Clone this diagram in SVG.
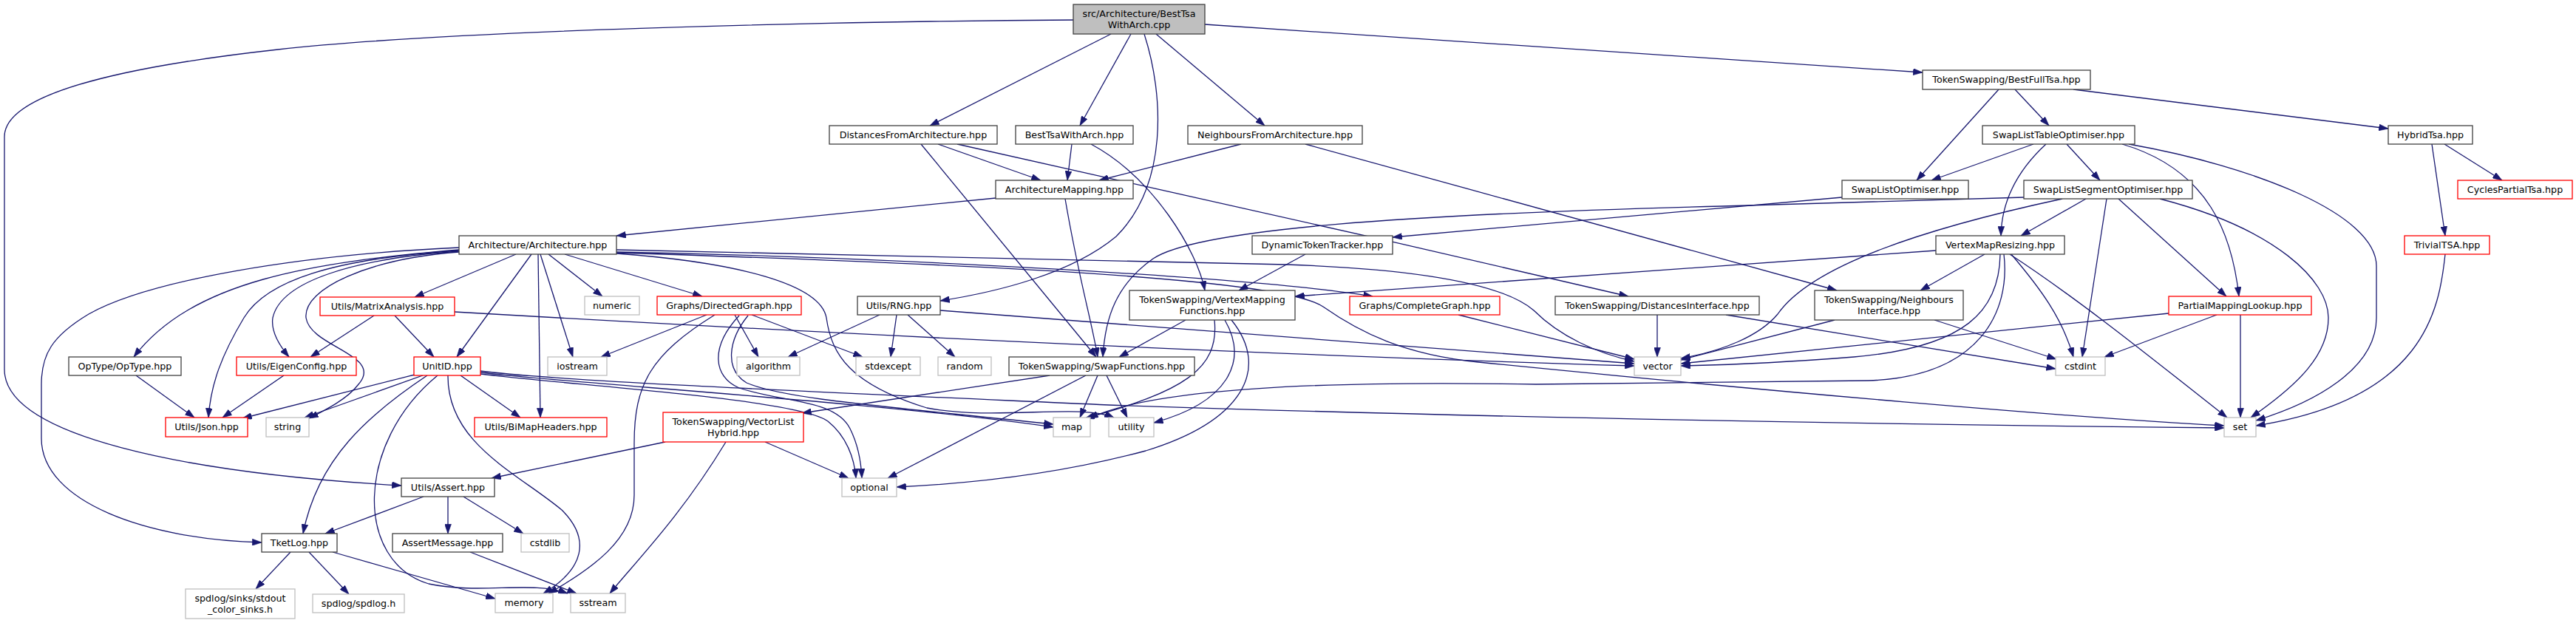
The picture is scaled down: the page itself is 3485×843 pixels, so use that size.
<svg xmlns="http://www.w3.org/2000/svg" width="3485" height="843" viewBox="0 0 3485 843">
<defs>
<marker id="a" viewBox="0 0 10 7" refX="10" refY="3.5" markerWidth="12.7" markerHeight="9" markerUnits="userSpaceOnUse" orient="auto">
<path d="M0,0 L10,3.5 L0,7 z" fill="#191970" stroke="#191970" stroke-width="0.5"/>
</marker>
<style>
.e path{fill:none;stroke:#191970;stroke-width:1.3;marker-end:url(#a)}
.n rect{fill:#fff;stroke-width:1.3}
.k rect{stroke:#404040}
.r rect{stroke:#ff0000}
.g rect{stroke:#bfbfbf}
#root rect{fill:#bfbfbf;stroke:#404040}
.n text{font-family:"DejaVu Sans","Liberation Sans",sans-serif;font-size:12.7px;text-anchor:middle;fill:#000}
</style>
</defs>
<rect width="3485" height="843" fill="#fff"/>
<g id="edges" class="e">
<path d="M1452,27 C1100,29 600,42 376,67 C150,92 6,130 6,185 L6,500 C6,590 250,640 543,657"/>
<path d="M1503,46 L1258,170"/>
<path d="M1530,46 L1461,170"/>
<path d="M1548,46 C1575,130 1580,250 1510,320 C1450,370 1350,395 1272,407"/>
<path d="M1564,46 L1711,170"/>
<path d="M1630,33 L2601,98"/>
<path d="M1269,195 L1408,244"/>
<path d="M1246,195 L1483,483"/>
<path d="M1295,195 C1500,240 1900,330 2203,401"/>
<path d="M1450,195 L1444,244"/>
<path d="M1476,195 C1560,240 1620,340 1630,393"/>
<path d="M1679,195 L1487,244"/>
<path d="M1766,195 L2485,393"/>
<path d="M2704,121 L2593,244"/>
<path d="M2726,121 L2772,170"/>
<path d="M2805,121 L3231,174"/>
<path d="M2751,195 L2613,244"/>
<path d="M2768,195 C2730,230 2708,270 2707,319"/>
<path d="M2796,195 L2841,244"/>
<path d="M2871,195 C2990,230 3020,320 3029,401"/>
<path d="M2880,195 C3050,225 3215,290 3215,360 L3215,430 C3215,500 3130,545 3052,569"/>
<path d="M3307,195 L3385,244"/>
<path d="M3290,195 L3308,319"/>
<path d="M1347,268 L834,319"/>
<path d="M1441,269 C1460,380 1476,430 1485,483"/>
<path d="M2492,267 L1884,321"/>
<path d="M2738,267 L2330,279 C1900,290 1620,310 1560,350 C1510,385 1495,430 1492,483"/>
<path d="M2822,269 L2734,319"/>
<path d="M2866,269 L3012,401"/>
<path d="M2850,269 L2817,483"/>
<path d="M2922,269 C3080,310 3150,380 3150,430 C3150,480 3110,520 3045,565"/>
<path d="M2790,269 C2600,310 2450,360 2405,425 C2380,455 2330,475 2274,485"/>
<path d="M3308,344 C3300,420 3280,540 3052,576"/>
<path d="M698,344 L561,402"/>
<path d="M719,344 L618,483"/>
<path d="M728,344 L731,565"/>
<path d="M731,344 L775,483"/>
<path d="M742,344 L815,401"/>
<path d="M764,344 L950,401"/>
<path d="M621,338 C420,355 260,380 181,483"/>
<path d="M621,339 C450,350 360,380 330,430 C300,480 285,520 282,565"/>
<path d="M621,340 C480,350 380,380 369,430 C366,450 380,470 391,483"/>
<path d="M621,341 C500,350 410,390 414,430 C420,470 520,480 485,520 C470,540 440,555 418,566"/>
<path d="M621,335 C400,345 200,380 120,425 C70,455 56,480 56,520 L56,593 C56,680 200,730 354,734"/>
<path d="M834,338 L1740,358 C1950,365 2040,390 2075,420 C2110,455 2160,478 2211,489"/>
<path d="M834,341 C1200,348 1700,375 1857,401"/>
<path d="M834,342 C1400,360 1740,380 1790,415 C1840,450 1900,480 2000,490 C2400,530 2800,565 3009,576"/>
<path d="M834,343 C1000,355 1110,385 1118,430 C1125,480 1150,520 1254,552 C1350,570 1460,545 1507,565"/>
<path d="M1766,344 L1676,393"/>
<path d="M2619,339 L1752,401"/>
<path d="M2685,344 L2598,393"/>
<path d="M2706,344 C2705,420 2660,470 2508,483 C2420,490 2330,494 2274,495"/>
<path d="M2711,344 C2720,420 2680,510 2527,515 C2400,515 2200,520 2078,520 C1800,515 1560,525 1473,566"/>
<path d="M2721,344 C2760,390 2790,430 2805,483"/>
<path d="M2719,344 C2820,410 2930,500 3013,565"/>
<path d="M506,427 L420,483"/>
<path d="M534,427 L587,483"/>
<path d="M615,422 C1100,450 1700,480 2211,495"/>
<path d="M956,426 L813,483"/>
<path d="M967,426 C880,480 858,520 858,600 L858,670 C858,730 800,770 742,803"/>
<path d="M994,426 L1026,483"/>
<path d="M1017,426 L1167,483"/>
<path d="M1000,427 C960,470 965,510 1000,525 C1060,545 1130,540 1150,580 C1160,600 1165,625 1166,647"/>
<path d="M1012,427 C985,460 980,500 1010,518 C1060,540 1200,550 1425,574"/>
<path d="M1190,426 L1066,483"/>
<path d="M1213,426 L1205,483"/>
<path d="M1228,426 L1292,483"/>
<path d="M1272,420 L2211,492"/>
<path d="M1604,433 L1514,483"/>
<path d="M1643,433 C1650,500 1600,530 1468,566"/>
<path d="M1657,433 C1690,490 1660,545 1561,572"/>
<path d="M1666,433 C1720,500 1680,570 1550,610 C1420,645 1300,655 1213,659"/>
<path d="M1973,426 L2211,486"/>
<path d="M2242,426 L2242,483"/>
<path d="M2335,426 L2781,499"/>
<path d="M2482,433 L2274,487"/>
<path d="M2617,433 L2782,486"/>
<path d="M2934,424 L2274,492"/>
<path d="M2999,426 L2847,483"/>
<path d="M3031,426 L3031,565"/>
<path d="M184,508 L263,565"/>
<path d="M384,508 L301,565"/>
<path d="M561,507 L328,566"/>
<path d="M572,508 L412,565"/>
<path d="M578,508 C500,560 430,620 410,722"/>
<path d="M606,508 C605,600 700,640 760,690 C800,730 790,770 735,803"/>
<path d="M592,508 C480,600 480,760 580,790 C650,805 720,785 768,803"/>
<path d="M623,508 L704,565"/>
<path d="M650,502 C760,516 1100,530 1500,548 C2000,565 2600,575 3009,579"/>
<path d="M650,504 C760,518 1200,545 1425,578"/>
<path d="M650,506 C780,522 1080,540 1120,570 C1145,590 1156,620 1158,647"/>
<path d="M1420,508 L1085,559"/>
<path d="M1469,508 L1201,647"/>
<path d="M1485,508 L1461,565"/>
<path d="M1497,508 L1525,565"/>
<path d="M900,598 L665,647"/>
<path d="M1035,598 L1148,647"/>
<path d="M982,598 C920,700 860,760 825,803"/>
<path d="M573,672 L440,722"/>
<path d="M606,672 L606,722"/>
<path d="M627,672 L708,722"/>
<path d="M393,747 L346,797"/>
<path d="M418,747 L472,804"/>
<path d="M450,747 L670,810"/>
<path d="M636,747 L780,803"/>
</g>
<g id="root" class="n"><rect x="1452" y="6" width="178" height="40"/><text x="1541" y="22.5">src/Architecture/BestTsa</text><text x="1541" y="37.5">WithArch.cpp</text></g>
<g id="n_dfa" class="n k"><rect x="1122" y="170" width="227" height="25"/><text x="1235.5" y="186.5">DistancesFromArchitecture.hpp</text></g>
<g id="n_bta" class="n k"><rect x="1374" y="170" width="159" height="25"/><text x="1453.5" y="186.5">BestTsaWithArch.hpp</text></g>
<g id="n_nfa" class="n k"><rect x="1607" y="170" width="236" height="25"/><text x="1725" y="186.5">NeighboursFromArchitecture.hpp</text></g>
<g id="n_bft" class="n k"><rect x="2601" y="95" width="227" height="26"/><text x="2714.5" y="112">TokenSwapping/BestFullTsa.hpp</text></g>
<g id="n_slto" class="n k"><rect x="2682" y="170" width="206" height="25"/><text x="2785" y="186.5">SwapListTableOptimiser.hpp</text></g>
<g id="n_ht" class="n k"><rect x="3231" y="170" width="114" height="25"/><text x="3288" y="186.5">HybridTsa.hpp</text></g>
<g id="n_am" class="n k"><rect x="1347" y="244" width="186" height="25"/><text x="1440" y="260.5">ArchitectureMapping.hpp</text></g>
<g id="n_slo" class="n k"><rect x="2492" y="244" width="171" height="25"/><text x="2577.5" y="260.5">SwapListOptimiser.hpp</text></g>
<g id="n_slso" class="n k"><rect x="2738" y="244" width="228" height="25"/><text x="2852" y="260.5">SwapListSegmentOptimiser.hpp</text></g>
<g id="n_cpt" class="n r"><rect x="3325" y="244" width="155" height="25"/><text x="3402.5" y="260.5">CyclesPartialTsa.hpp</text></g>
<g id="n_arch" class="n k"><rect x="621" y="319" width="213" height="25"/><text x="727.5" y="335.5">Architecture/Architecture.hpp</text></g>
<g id="n_dtt" class="n k"><rect x="1694" y="319" width="190" height="25"/><text x="1789" y="335.5">DynamicTokenTracker.hpp</text></g>
<g id="n_vmr" class="n k"><rect x="2619" y="319" width="174" height="25"/><text x="2706" y="335.5">VertexMapResizing.hpp</text></g>
<g id="n_ttsa" class="n r"><rect x="3253" y="319" width="115" height="25"/><text x="3310.5" y="335.5">TrivialTSA.hpp</text></g>
<g id="n_ma" class="n r"><rect x="433" y="402" width="182" height="25"/><text x="524" y="418.5">Utils/MatrixAnalysis.hpp</text></g>
<g id="n_numeric" class="n g"><rect x="791" y="401" width="74" height="25"/><text x="828" y="417.5">numeric</text></g>
<g id="n_dg" class="n r"><rect x="889" y="401" width="195" height="25"/><text x="986.5" y="417.5">Graphs/DirectedGraph.hpp</text></g>
<g id="n_rng" class="n k"><rect x="1160" y="401" width="112" height="25"/><text x="1216" y="417.5">Utils/RNG.hpp</text></g>
<g id="n_vmf" class="n k"><rect x="1528" y="393" width="224" height="40"/><text x="1640" y="410">TokenSwapping/VertexMapping</text><text x="1640" y="425">Functions.hpp</text></g>
<g id="n_cg" class="n r"><rect x="1826" y="401" width="203" height="25"/><text x="1927.5" y="417.5">Graphs/CompleteGraph.hpp</text></g>
<g id="n_di" class="n k"><rect x="2104" y="401" width="276" height="25"/><text x="2242" y="417.5">TokenSwapping/DistancesInterface.hpp</text></g>
<g id="n_ni" class="n k"><rect x="2455" y="393" width="201" height="40"/><text x="2555.5" y="410">TokenSwapping/Neighbours</text><text x="2555.5" y="425">Interface.hpp</text></g>
<g id="n_pml" class="n r"><rect x="2934" y="401" width="193" height="25"/><text x="3030.5" y="417.5">PartialMappingLookup.hpp</text></g>
<g id="n_optype" class="n k"><rect x="93" y="483" width="152" height="25"/><text x="169" y="499.5">OpType/OpType.hpp</text></g>
<g id="n_eigen" class="n r"><rect x="320" y="483" width="162" height="25"/><text x="401" y="499.5">Utils/EigenConfig.hpp</text></g>
<g id="n_unitid" class="n r"><rect x="560" y="483" width="90" height="25"/><text x="605" y="499.5">UnitID.hpp</text></g>
<g id="n_iostream" class="n g"><rect x="741" y="483" width="80" height="25"/><text x="781" y="499.5">iostream</text></g>
<g id="n_algorithm" class="n g"><rect x="997" y="483" width="85" height="25"/><text x="1039.5" y="499.5">algorithm</text></g>
<g id="n_stdexcept" class="n g"><rect x="1158" y="483" width="87" height="25"/><text x="1201.5" y="499.5">stdexcept</text></g>
<g id="n_random" class="n g"><rect x="1269" y="483" width="72" height="25"/><text x="1305" y="499.5">random</text></g>
<g id="n_sf" class="n k"><rect x="1365" y="483" width="251" height="25"/><text x="1490.5" y="499.5">TokenSwapping/SwapFunctions.hpp</text></g>
<g id="n_vector" class="n g"><rect x="2211" y="483" width="63" height="25"/><text x="2242.5" y="499.5">vector</text></g>
<g id="n_cstdint" class="n g"><rect x="2781" y="483" width="67" height="25"/><text x="2814.5" y="499.5">cstdint</text></g>
<g id="n_json" class="n r"><rect x="224" y="565" width="111" height="26"/><text x="279.5" y="582">Utils/Json.hpp</text></g>
<g id="n_string" class="n g"><rect x="360" y="565" width="58" height="26"/><text x="389" y="582">string</text></g>
<g id="n_bimap" class="n r"><rect x="642" y="565" width="179" height="26"/><text x="731.5" y="582">Utils/BiMapHeaders.hpp</text></g>
<g id="n_vlh" class="n r"><rect x="897" y="558" width="190" height="40"/><text x="992" y="575">TokenSwapping/VectorList</text><text x="992" y="590">Hybrid.hpp</text></g>
<g id="n_map" class="n g"><rect x="1425" y="565" width="50" height="26"/><text x="1450" y="582">map</text></g>
<g id="n_utility" class="n g"><rect x="1500" y="565" width="61" height="26"/><text x="1530.5" y="582">utility</text></g>
<g id="n_set" class="n g"><rect x="3009" y="565" width="43" height="26"/><text x="3030.5" y="582">set</text></g>
<g id="n_assert" class="n k"><rect x="543" y="647" width="126" height="25"/><text x="606" y="663.5">Utils/Assert.hpp</text></g>
<g id="n_optional" class="n g"><rect x="1139" y="647" width="74" height="25"/><text x="1176" y="663.5">optional</text></g>
<g id="n_tketlog" class="n k"><rect x="354" y="722" width="102" height="25"/><text x="405" y="738.5">TketLog.hpp</text></g>
<g id="n_assertmsg" class="n k"><rect x="531" y="722" width="149" height="25"/><text x="605.5" y="738.5">AssertMessage.hpp</text></g>
<g id="n_cstdlib" class="n g"><rect x="705" y="722" width="65" height="25"/><text x="737.5" y="738.5">cstdlib</text></g>
<g id="n_stdout" class="n g"><rect x="251" y="797" width="148" height="40"/><text x="325" y="814">spdlog/sinks/stdout</text><text x="325" y="829">_color_sinks.h</text></g>
<g id="n_spdlog" class="n g"><rect x="423" y="804" width="124" height="25"/><text x="485" y="820.5">spdlog/spdlog.h</text></g>
<g id="n_memory" class="n g"><rect x="670" y="803" width="78" height="26"/><text x="709" y="820">memory</text></g>
<g id="n_sstream" class="n g"><rect x="772" y="803" width="74" height="26"/><text x="809" y="820">sstream</text></g>
</svg>
